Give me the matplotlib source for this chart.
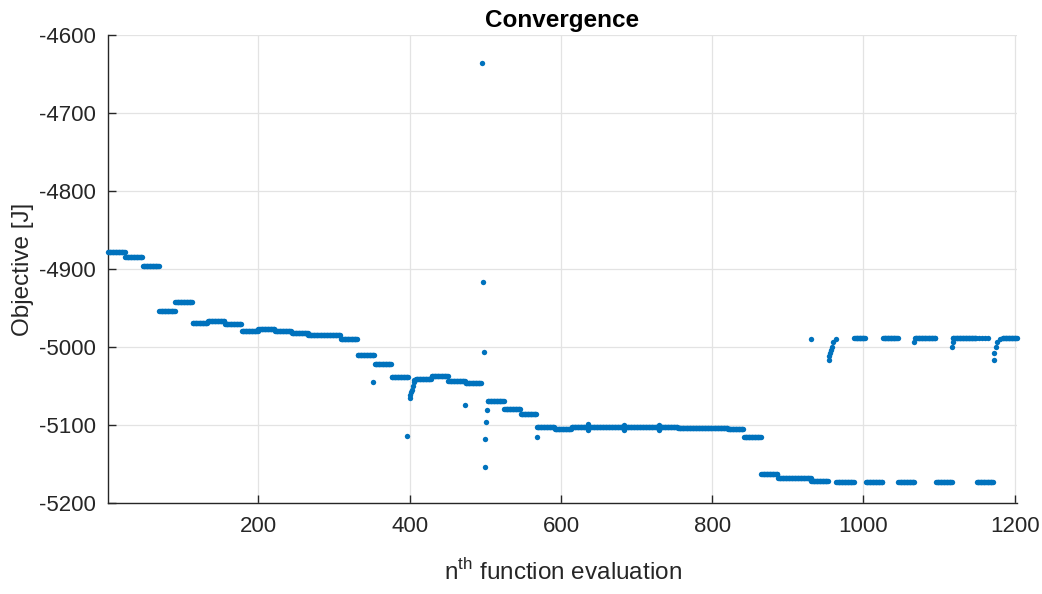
import numpy as np
import matplotlib
matplotlib.use("Agg")
import matplotlib.pyplot as plt

plt.rcParams["font.family"] = ["Liberation Sans", "DejaVu Sans"]
plt.rcParams["mathtext.fontset"] = "custom"
plt.rcParams["mathtext.rm"] = "Liberation Sans"
plt.rcParams["axes.unicode_minus"] = False

# plateaus of the objective: first eval, last eval, value [J]
plateau_start = [1, 24, 47, 69, 90, 113, 133, 156, 178, 200, 222, 244, 266, 288, 309,
                 331, 354, 376, 408, 429, 451, 474, 503, 525, 547, 568, 592, 614, 755,
                 821, 842, 865, 887, 931,
                 964, 988, 1003, 1026, 1046, 1068, 1096, 1118, 1150, 1185]
plateau_end = [23, 46, 68, 89, 112, 132, 155, 177, 199, 221, 243, 265, 287, 308, 330,
               353, 375, 398, 428, 450, 473, 494, 524, 546, 567, 591, 613, 754, 820,
               841, 864, 886, 930, 953,
               987, 1002, 1025, 1045, 1067, 1095, 1117, 1149, 1171, 1203]
plateau_value = [-4878, -4885, -4896, -4954, -4942, -4969, -4967, -4971, -4979, -4977,
                 -4979, -4982, -4984, -4985, -4990, -5010, -5022, -5038, -5041, -5037,
                 -5044, -5046, -5069, -5079, -5086, -5103, -5105, -5103, -5104, -5105,
                 -5115, -5163, -5168, -5172,
                 -5173, -4989, -5173, -4989, -5173, -4989, -5173, -4989, -5173, -4989]

# isolated evaluations and transitions
extra_x = [352, 397, 400, 401, 402, 403, 404, 405, 406, 473,
           496, 497, 498, 499, 500, 501, 502, 568,
           636, 636, 683, 683, 730, 730,
           930, 954, 955, 956, 957, 958, 960, 963,
           1067, 1117, 1118, 1153, 1157, 1161, 1164,
           1172, 1173, 1175, 1177, 1180, 1184]
extra_y = [-5045, -5114, -5066, -5062, -5058, -5055, -5050, -5045, -5042, -5074,
           -4636, -4917, -5007, -5154, -5118, -5096, -5081, -5115,
           -5099, -5107, -5100, -5106, -5100, -5106,
           -4990, -5017, -5012, -5008, -5004, -5000, -4994, -4990,
           -4994, -5000, -4994, -4989, -4989, -4989, -4989,
           -5017, -5008, -5000, -4993, -4990, -4989]

x = np.concatenate([np.arange(s, e + 1) for s, e in zip(plateau_start, plateau_end)] + [extra_x])
y = np.concatenate([np.full(e - s + 1, v, dtype=float)
                    for s, e, v in zip(plateau_start, plateau_end, plateau_value)] + [extra_y])

fig = plt.figure(figsize=(10.42, 5.94), dpi=100)
ax = fig.add_axes([108 / 1042, 91 / 594, 909 / 1042, 468 / 594])
ax.scatter(x, y, s=15, color="#0072BD", linewidths=0, zorder=3, clip_on=False)

ax.set_xlim(1, 1203)
ax.set_ylim(-5200, -4600)
ax.set_xticks([200, 400, 600, 800, 1000, 1200])
ax.set_yticks(np.arange(-5200, -4599, 100))

ax.grid(True, color="#e3e3e3", linewidth=0.9)
ax.set_axisbelow(True)
for side in ("top", "right"):
    ax.spines[side].set_visible(False)
for side in ("left", "bottom"):
    ax.spines[side].set_color("#262626")
    ax.spines[side].set_linewidth(1.0)
ax.tick_params(direction="in", length=6, width=1.0, color="#262626",
               labelsize=16, labelcolor="#262626", pad=9)

ax.set_title("Convergence", fontsize=17.5, fontweight="bold", pad=6, color="black")
ax.set_xlabel(r"n$^{\mathrm{th}}$ function evaluation", fontsize=17.5, color="#262626", labelpad=16)
ax.set_ylabel("Objective [J]", fontsize=17.5, color="#262626", labelpad=3)

fig.savefig("out.png", dpi=100)
